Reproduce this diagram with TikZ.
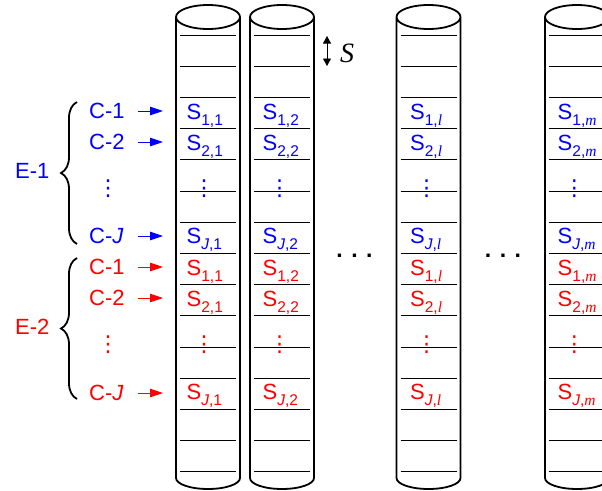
\documentclass[tikz,border=0pt]{standalone}
\usepackage{fontspec}
\setmainfont{Liberation Sans}
\newfontfamily\timesfont{Liberation Serif}
\newfontfamily\dotsfont{DejaVu Sans}
\usetikzlibrary{arrows.meta,decorations.pathreplacing}
\newcommand{\cellsub}[1]{\raisebox{-6pt}{\fontsize{15.5}{16}\selectfont #1}}
\newcommand{\subl}{{\timesfont\itshape l}}
\newcommand{\subm}{{\timesfont\itshape m}}
\newcommand{\vdotsmark}{{\dotsfont\fontsize{22}{24}\selectfont ⋮}}

\begin{document}
\begin{tikzpicture}[
  x=1pt, y=-1pt,
  font=\fontsize{22}{24}\selectfont,
  can/.style={draw, line width=1.8pt},
  rule/.style={draw, line width=0.8pt},
  grp/.style={anchor=base west, inner sep=0pt},
  case/.style={anchor=base west, inner sep=0pt, text width=36pt, text height=15pt, text depth=0pt},
  cell/.style={anchor=base west, inner sep=0pt},
  vd/.style={inner sep=0pt},
  hd/.style={inner sep=0pt, font=\fontsize{23}{24}\selectfont\bfseries},
  arr/.style={-{Triangle[length=13pt,width=8.5pt]}, line width=0.9pt, shorten <=13pt, shorten >=23.5pt},
  gap/.style={{Triangle[length=7.5pt,width=8pt]}-{Triangle[length=7.5pt,width=8pt]}, line width=0.9pt},
  brc/.style={draw, line width=1.8pt, decorate, decoration={brace, amplitude=16pt}}
]
\clip (0,0) rectangle (602,490);
% columns
\foreach \cx/\sx/\dx/\sub/\col in {208/186.5/204/1/a, 282/262.5/279.7/2/b, 428.5/410/426.7/\subl/c, 577/557.5/574.3/\subm/d} {
  \draw[can] ({\cx-32},478) -- ({\cx-32},17) (\cx,17) ellipse [x radius=32, y radius=12]
    ({\cx+32},17) -- ({\cx+32},478) arc [start angle=0, end angle=180, x radius=32, y radius=11];
  \foreach \i in {0,...,14}
    \draw[rule] ({\cx-28},{35+31.2*\i}) -- ++(56,0);
  \foreach \row/\rsub/\base/\tone in {1/1/119/blue, 2/2/150/blue, J/\textit{J}/243/blue, 3/1/275/red, 4/2/306/red, K/\textit{J}/399/red}
    \node[cell, text=\tone] (s\row\col) at (\sx,\base) {S\cellsub{\rsub,\sub}};
  \node[vd, text=blue] (vb\col) at (\dx,188.5) {\vdotsmark};
  \node[vd, text=red] (vr\col) at (\dx,344.5) {\vdotsmark};
}
% left labels
\node[grp, text=blue] (e1) at (15,178) {E-1};
\node[grp, text=red] (e2) at (15,334) {E-2};
\foreach \row/\lab/\base/\tone in {1/C-1/118.5/blue, 2/C-2/149.5/blue, J/C-\textit{J}/243.5/blue, 3/C-1/274.5/red, 4/C-2/305.5/red, K/C-\textit{J}/400.5/red} {
  \node[case, text=\tone] (c\row) at (89,\base) {\lab};
  \draw[arr, \tone] (c\row.east) -- (c\row.east -| s\row a.west);
}
\node[vd, text=blue] (vc1) at (108,188.5) {\vdotsmark};
\node[vd, text=red] (vc2) at (108,344.5) {\vdotsmark};
% braces
\coordinate (b1a) at (77,244);
\coordinate (b1b) at (77,102);
\coordinate (b2a) at (77,399);
\coordinate (b2b) at (77,258);
\draw[brc] (b1a) -- (b1b);
\draw[brc] (b2a) -- (b2b);
% spacing mark
\coordinate (g1) at (327,36);
\coordinate (g2) at (327,66);
\draw[gap] (g1) -- (g2);
\node[anchor=base west, inner sep=0pt, font=\fontsize{28}{30}\selectfont\timesfont\itshape] (slab) at (340,62) {S};
% gaps between columns
\node[hd] (h1) at (354.5,256) {. . .};
\node[hd] (h2) at (503,256) {. . .};
\end{tikzpicture}
\end{document}
